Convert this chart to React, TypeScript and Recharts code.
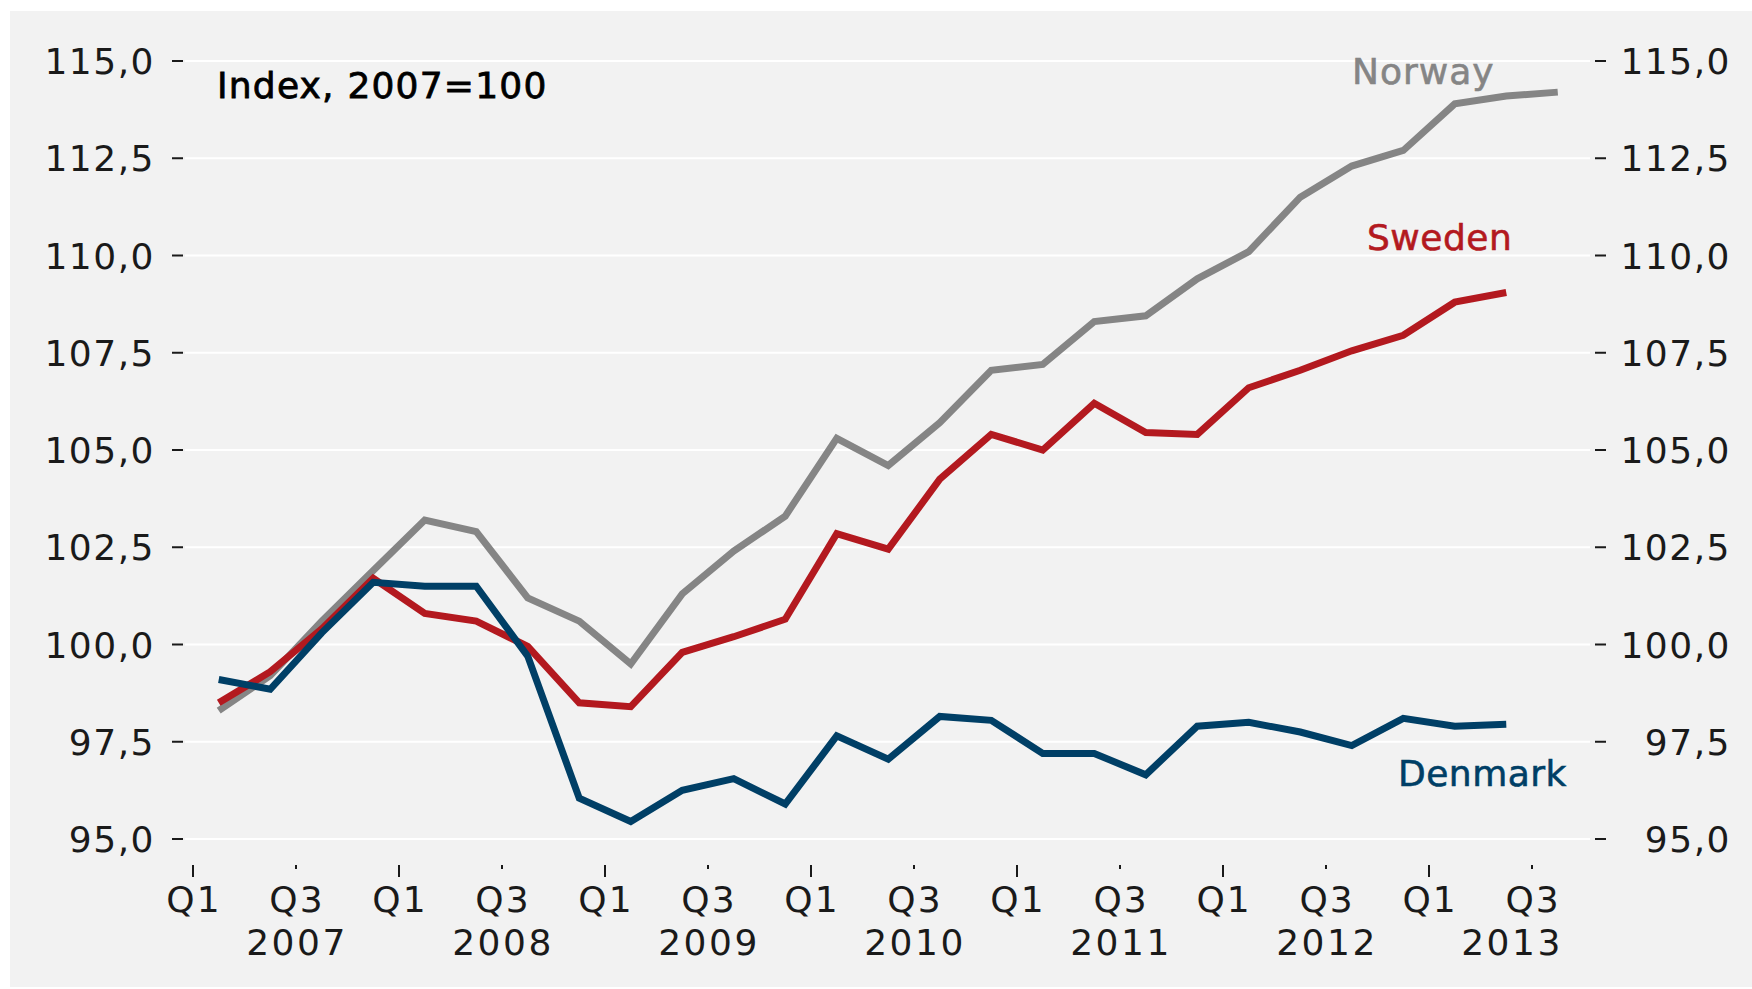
import React from 'react';
import { LineChart, Line, XAxis, YAxis, CartesianGrid } from 'recharts';

// quarters 2007Q1 .. 2013Q3
const quarters = [
  '2007Q1', '2007Q2', '2007Q3', '2007Q4',
  '2008Q1', '2008Q2', '2008Q3', '2008Q4',
  '2009Q1', '2009Q2', '2009Q3', '2009Q4',
  '2010Q1', '2010Q2', '2010Q3', '2010Q4',
  '2011Q1', '2011Q2', '2011Q3', '2011Q4',
  '2012Q1', '2012Q2', '2012Q3', '2012Q4',
  '2013Q1', '2013Q2', '2013Q3'
];

const norway = [
  98.3, 99.2, 100.6, 101.9, 103.2, 102.9, 101.2, 100.6, 99.5,
  101.3, 102.4, 103.3, 105.3, 104.6, 105.7, 107.05, 107.2, 108.3,
  108.45, 109.4, 110.1, 111.5, 112.3, 112.7, 113.9, 114.1, 114.2
];

const sweden = [
  98.5, 99.3, 100.4, 101.7, 100.8, 100.6, 99.95, 98.5, 98.4,
  99.8, 100.2, 100.65, 102.85, 102.45, 104.25, 105.4, 105.0, 106.2,
  105.45, 105.4, 106.6, 107.05, 107.55, 107.95, 108.8, 109.05
];

const denmark = [
  99.1, 98.85, 100.3, 101.6, 101.5, 101.5, 99.7, 96.05, 95.45,
  96.25, 96.55, 95.9, 97.65, 97.05, 98.15, 98.05, 97.2, 97.2,
  96.65, 97.9, 98.0, 97.75, 97.4, 98.1, 97.9, 97.95
];

// tick positions in quarter index (start of quarter)
const xTicks = [0, 2, 4, 6, 8, 10, 12, 14, 16, 18, 20, 22, 24, 26];
const yTicks = [95, 97.5, 100, 102.5, 105, 107.5, 110, 112.5, 115];

const FONT = '"DejaVu Sans", sans-serif';
const INK = '#1a1a1a';

const data = quarters.map((q, i) => ({
  q,
  x: i + 0.5,
  norway: norway[i] ?? null,
  sweden: sweden[i] ?? null,
  denmark: denmark[i] ?? null
}));

const fmt = (v: number) => v.toFixed(1).replace('.', ',');

const XTick = (props: any) => {
  const { x, y, payload } = props;
  const q = payload.value as number;
  const isQ1 = q % 4 === 0;
  const year = 2007 + Math.floor(q / 4);
  const last = q === xTicks[xTicks.length - 1];
  return (
    <g>
      <line x1={x} x2={x} y1={y + 26} y2={y + (isQ1 ? 38 : 30)} stroke={INK} strokeWidth={2} />
      <text x={x + 1} y={y + 73} textAnchor="middle" fontFamily={FONT} fontSize={36} letterSpacing={2} fill={INK}>
        {isQ1 ? 'Q1' : 'Q3'}
      </text>
      {!isQ1 && (
        <text x={(last ? x - 21 : x) + 1} y={y + 116} textAnchor="middle" fontFamily={FONT} fontSize={36} letterSpacing={2.5} fill={INK}>
          {year}
        </text>
      )}
    </g>
  );
};

const LeftTick = (props: any) => {
  const { x, y, payload } = props;
  return (
    <g>
      <line x1={x - 13} x2={x - 2} y1={y} y2={y} stroke={INK} strokeWidth={2} />
      <text x={x - 30} y={y + 13} textAnchor="end" fontFamily={FONT} fontSize={36} letterSpacing={1.5} fill={INK}>
        {fmt(payload.value)}
      </text>
    </g>
  );
};

const RightTick = (props: any) => {
  const { x, y, payload } = props;
  return (
    <g>
      <line x1={x + 5} x2={x + 16} y1={y} y2={y} stroke={INK} strokeWidth={2} />
      <text x={x + 141} y={y + 13} textAnchor="end" fontFamily={FONT} fontSize={36} letterSpacing={1.5} fill={INK}>
        {fmt(payload.value)}
      </text>
    </g>
  );
};

export default function App() {
  return (
    <div style={{ position: 'absolute', left: 0, top: 0, width: 1752, height: 989, background: '#fff' }}>
      <div style={{ position: 'absolute', left: 10, top: 11, width: 1742, height: 976, background: '#f2f2f2' }} />
      <div style={{ position: 'absolute', left: 0, top: 0 }}>
        <LineChart width={1752} height={989} data={data} margin={{ top: 61, right: 0, bottom: 0, left: 0 }}>
          <CartesianGrid yAxisId="left" horizontal vertical={false} stroke="#ffffff" strokeWidth={2} />
          <XAxis
            dataKey="x"
            type="number"
            domain={[-0.155, 27.126]}
            ticks={xTicks}
            interval={0}
            height={150}
            axisLine={false}
            tickLine={false}
            tickSize={0}
            tickMargin={0}
            tick={<XTick />}
            allowDataOverflow
          />
          <YAxis
            yAxisId="left"
            orientation="left"
            domain={[95, 115]}
            ticks={yTicks}
            width={185}
            axisLine={false}
            tickLine={false}
            tickSize={0}
            tickMargin={0}
            tick={<LeftTick />}
            interval={0}
          />
          <YAxis
            yAxisId="right"
            orientation="right"
            domain={[95, 115]}
            ticks={yTicks}
            width={162}
            axisLine={false}
            tickLine={false}
            tickSize={0}
            tickMargin={0}
            tick={<RightTick />}
            interval={0}
          />
          <Line yAxisId="right" type="linear" dataKey="norway" stroke="#858585" strokeWidth={7} dot={false} isAnimationActive={false} />
          <Line yAxisId="left" type="linear" dataKey="sweden" stroke="#b3191f" strokeWidth={7} dot={false} isAnimationActive={false} />
          <Line yAxisId="left" type="linear" dataKey="denmark" stroke="#003f66" strokeWidth={7} dot={false} isAnimationActive={false} />
        </LineChart>
      </div>
      <svg width={1752} height={989} style={{ position: 'absolute', left: 0, top: 0, pointerEvents: 'none' }}>
        <text x={217} y={98} fontFamily={FONT} fontSize={36} letterSpacing={1.2} fill="#000" stroke="#000" strokeWidth={0.8}>
          Index, 2007=100
        </text>
        <text x={1352} y={84} fontFamily={FONT} fontSize={36} letterSpacing={1} fill="#858585" stroke="#858585" strokeWidth={0.6}>
          Norway
        </text>
        <text x={1367} y={250} fontFamily={FONT} fontSize={36} letterSpacing={0.5} fill="#b3191f" stroke="#b3191f" strokeWidth={0.6}>
          Sweden
        </text>
        <text x={1398} y={786} fontFamily={FONT} fontSize={36} letterSpacing={0.5} fill="#003f66" stroke="#003f66" strokeWidth={0.6}>
          Denmark
        </text>
      </svg>
    </div>
  );
}
